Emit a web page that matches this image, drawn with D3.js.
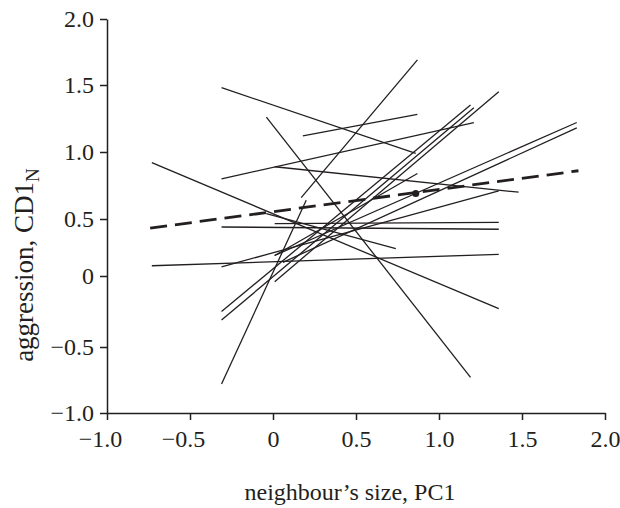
<!DOCTYPE html>
<html>
<head>
<meta charset="utf-8">
<script src="https://cdnjs.cloudflare.com/ajax/libs/d3/7.8.5/d3.min.js"></script>
<style>
  body { margin: 0; background: #fff; }
  text { font-family: "Liberation Serif", "DejaVu Serif", serif; fill: #231f20; }
</style>
</head>
<body>
<div id="chart"></div>
<script>
// one reaction norm per individual: start (x0,y0) -> end (x1,y1)
const lineX0 = [-0.31, 0.17, -0.31, 0.18, -0.31, 0.01, -0.04, -0.73, -0.73, -0.31, 0.01, -0.04, 0.01, -0.31, -0.31, 0.01, 0.06, 0.01, -0.31];
const lineY0 = [-0.78, 0.66, 1.48, 1.12, 0.80, 0.89, 1.26, 0.92, 0.09, 0.43, 0.46, 0.54, -0.04, -0.25, -0.31, 0.18, 0.12, 0.18, 0.08];
const lineX1 = [0.20, 0.87, 0.86, 0.87, 1.21, 1.48, 1.19, 1.36, 1.36, 1.36, 1.36, 0.74, 1.36, 1.19, 1.21, 1.83, 1.83, 0.87, 1.36];
const lineY1 = [0.64, 1.69, 0.99, 1.28, 1.22, 0.70, -0.73, -0.23, 0.19, 0.41, 0.47, 0.24, 1.45, 1.35, 1.33, 1.22, 1.18, 0.84, 0.71];

// population mean (dashed) and its point
const meanX = [-0.74, 1.84];
const meanY = [0.42, 0.86];
const meanPoint = [0.86, 0.69];

const xTicks = [-1.0, -0.5, 0, 0.5, 1.0, 1.5, 2.0];
const yTicks = [-1.0, -0.5, 0, 0.5, 1.0, 1.5, 2.0];

const width = 620;
const height = 508;
const ink = "#231f20";

const svg = d3.select("#chart")
    .append("svg")
    .attr("width", width)
    .attr("height", height);

const x = d3.scaleLinear()
    .domain([-1, 2])
    .range([107, 605]);

// the printed y axis is not evenly spaced, so follow its ticks piece by piece
const y = d3.scaleLinear()
    .domain(yTicks)
    .range([413, 347, 276, 219, 152, 85, 19]);

const fmt = d => d === 0 ? "0" : d3.format(".1f")(d).replace("-", "\u2013");

// axes
const xAxis = svg.append("g")
    .attr("transform", `translate(0,${y(-1)})`)
    .call(d3.axisBottom(x).tickValues(xTicks).tickFormat(fmt).tickSize(7).tickSizeOuter(0).tickPadding(10));

const yAxis = svg.append("g")
    .attr("transform", `translate(${x(-1)},0)`)
    .call(d3.axisLeft(y).tickValues(yTicks).tickFormat(fmt).tickSize(7).tickSizeOuter(0).tickPadding(6));

[xAxis, yAxis].forEach(g => {
    g.selectAll("path, line").attr("stroke", ink).attr("stroke-width", 1.5);
    g.selectAll("text")
        .attr("font-family", "Liberation Serif, serif")
        .attr("font-size", 24)
        .attr("fill", ink);
});
xAxis.selectAll("text").attr("dx", d => d < 0 ? -7 : 0);

// individual lines
const segs = d3.range(lineX0.length);
svg.append("g")
    .selectAll("line")
    .data(segs)
    .join("line")
    .attr("x1", i => x(lineX0[i]))
    .attr("y1", i => y(lineY0[i]))
    .attr("x2", i => x(lineX1[i]))
    .attr("y2", i => y(lineY1[i]))
    .attr("stroke", ink)
    .attr("stroke-width", 1.3);

// mean line
svg.append("line")
    .attr("x1", x(meanX[0]))
    .attr("y1", y(meanY[0]))
    .attr("x2", x(meanX[1]))
    .attr("y2", y(meanY[1]))
    .attr("stroke", ink)
    .attr("stroke-width", 2.8)
    .attr("stroke-dasharray", "17,8");

svg.append("circle")
    .attr("cx", x(meanPoint[0]))
    .attr("cy", y(meanPoint[1]))
    .attr("r", 3.5)
    .attr("fill", ink);

// axis titles
svg.append("text")
    .attr("x", 350)
    .attr("y", 500)
    .attr("text-anchor", "middle")
    .attr("font-size", 24)
    .text("neighbour\u2019s size, PC1");

const yTitle = svg.append("text")
    .attr("transform", "translate(33,265) rotate(-90)")
    .attr("text-anchor", "middle")
    .attr("font-size", 27);
yTitle.append("tspan").text("aggression, CD1");
yTitle.append("tspan").attr("font-size", 19).attr("dy", 6).text("N");
</script>
</body>
</html>
